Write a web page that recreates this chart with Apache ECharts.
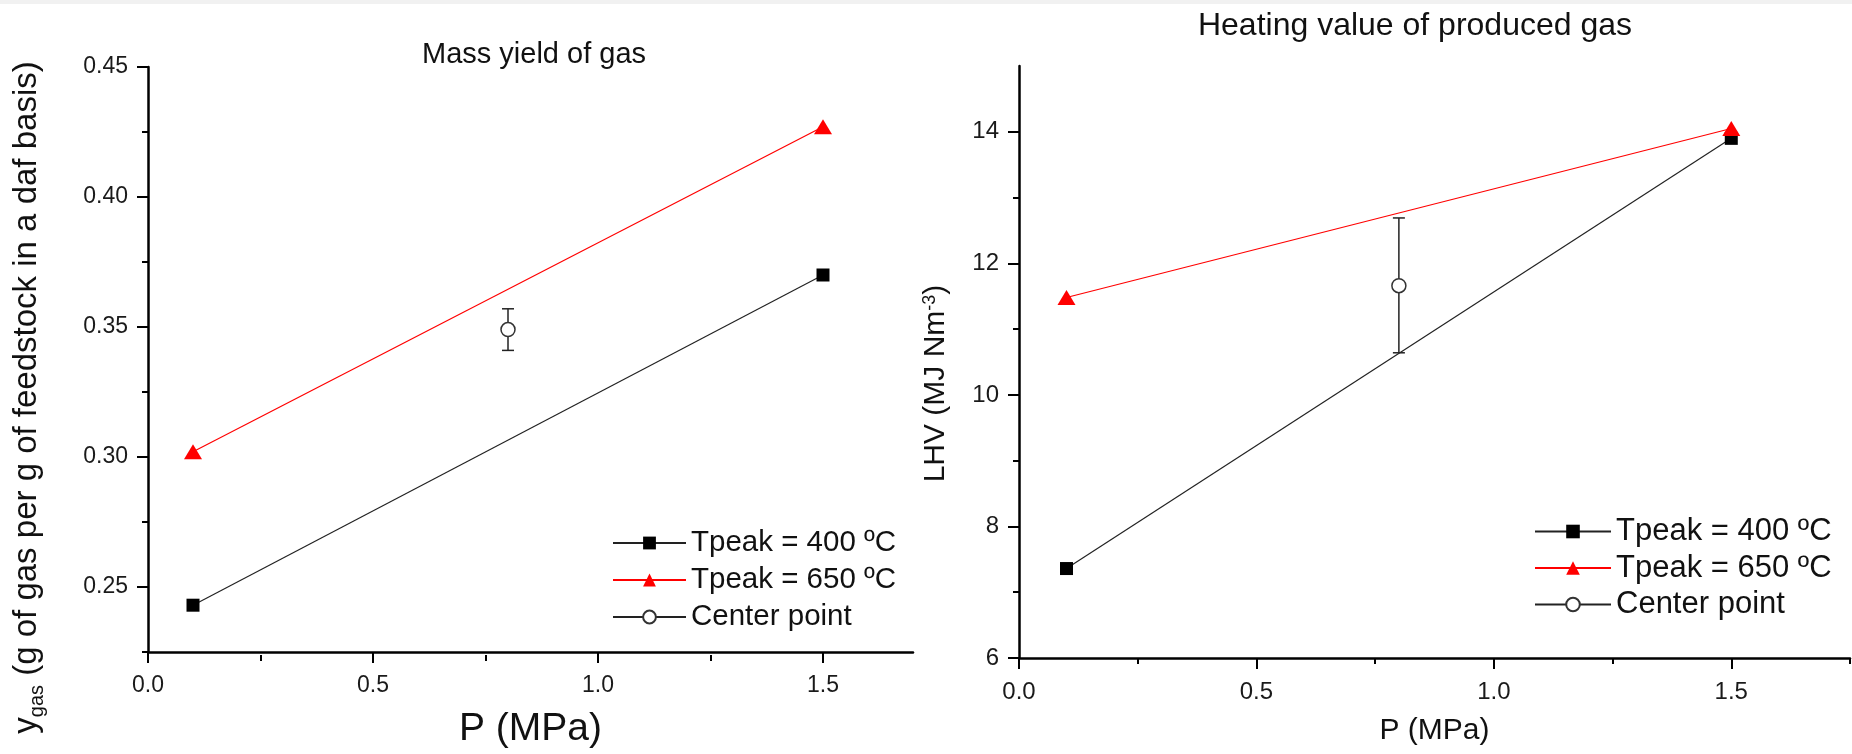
<!DOCTYPE html>
<html>
<head>
<meta charset="utf-8">
<script src="https://cdn.jsdelivr.net/npm/echarts@6/dist/echarts.min.js"></script>
<style>
html, body { margin: 0; padding: 0; background: #fff; }
#main { width: 1852px; height: 754px; }
</style>
</head>
<body>
<div id="main"></div>
<script>
// pressure (MPa)
var pressure = [0.1, 1.5];
var pressureCenter = 0.8;

// mass yield of gas
var yield400 = [0.243, 0.370];
var yield650 = [0.302, 0.427];
var yieldCenter = 0.349;
var yieldErr = [0.341, 0.357];

// heating value LHV (MJ Nm-3)
var lhv400 = [7.36, 13.90];
var lhv650 = [11.48, 14.05];
var lhvCenter = 11.66;
var lhvErr = [10.64, 12.69];

// ticks
var xMajor = [0, 0.5, 1.0, 1.5];
var xMinorLeft = [0.25, 0.75, 1.25];
var xMinorRight = [0.25, 0.75, 1.25, 1.75];
var yMajorLeft = [0.25, 0.30, 0.35, 0.40, 0.45];
var yMinorLeft = [0.225, 0.275, 0.325, 0.375, 0.425];
var yMajorRight = [6, 8, 10, 12, 14];
var yMinorRight = [7, 9, 11, 13];

var legendNames = ['Tpeak = 400 ºC', 'Tpeak = 650 ºC', 'Center point'];

var FONT = '"Liberation Sans", Arial, sans-serif';

// grid boxes
var g0 = {left: 148, top: 67, width: 765, height: 588};
var g1 = {left: 1019, top: 66, width: 831, height: 592};

function pairs(xs, ys) {
    return xs.map(function (x, i) { return [x, ys[i]]; });
}

function majorX(grid, max, name, nameSize, labelSize) {
    return {
        type: 'value', gridIndex: grid, min: 0, max: max,
        name: name, nameLocation: 'middle', nameGap: 58,
        nameTextStyle: {fontSize: nameSize, fontFamily: FONT, color: '#111'},
        axisLine: {onZero: false, lineStyle: {color: '#000', width: 2.5}},
        axisTick: {customValues: xMajor, length: 11, lineStyle: {color: '#000', width: 2}},
        axisLabel: {customValues: xMajor, margin: 22, fontSize: labelSize, fontFamily: FONT, color: '#1a1a1a',
            formatter: function (v) { return v.toFixed(1); }},
        splitLine: {show: false}
    };
}

// minor tick axis: placed at top then shifted down onto the bottom line
function minorX(grid, max, vals, h) {
    return {
        type: 'value', gridIndex: grid, min: 0, max: max, position: 'top', offset: -h,
        axisLine: {show: false, onZero: false},
        axisTick: {customValues: vals, inside: true, length: 6, lineStyle: {color: '#000', width: 2}},
        axisLabel: {show: false},
        splitLine: {show: false}
    };
}

function majorY(grid, min, max, vals, digits, labelSize, name, rich, gap, pad) {
    return {
        type: 'value', gridIndex: grid, min: min, max: max,
        name: name, nameLocation: 'middle', nameGap: gap, nameRotate: 90,
        nameTextStyle: {rich: rich, padding: pad},
        axisLine: {show: true, onZero: false, lineStyle: {color: '#000', width: 2.5}},
        axisTick: {show: true, customValues: vals, length: 11, lineStyle: {color: '#000', width: 2}},
        axisLabel: {customValues: vals, margin: 20, fontSize: labelSize, fontFamily: FONT, color: '#1a1a1a',
            formatter: function (v) { return v.toFixed(digits); }},
        splitLine: {show: false}
    };
}

function minorY(grid, min, max, vals, w) {
    return {
        type: 'value', gridIndex: grid, min: min, max: max, position: 'right', offset: -w,
        axisLine: {show: false, onZero: false},
        axisTick: {show: true, customValues: vals, inside: true, length: 6, lineStyle: {color: '#000', width: 2}},
        axisLabel: {show: false},
        splitLine: {show: false}
    };
}

function errorBar(params, api) {
    var x = api.value(0);
    var lo = api.coord([x, api.value(1)]);
    var hi = api.coord([x, api.value(2)]);
    var half = 6;
    var st = {stroke: '#222', lineWidth: 1.5};
    return {
        type: 'group',
        children: [
            {type: 'line', shape: {x1: lo[0], y1: lo[1], x2: hi[0], y2: hi[1]}, style: st},
            {type: 'line', shape: {x1: lo[0] - half, y1: lo[1], x2: lo[0] + half, y2: lo[1]}, style: st},
            {type: 'line', shape: {x1: hi[0] - half, y1: hi[1], x2: hi[0] + half, y2: hi[1]}, style: st}
        ]
    };
}

function chartSeries(xi, yi, s400, s650, center, err) {
    return [
        {
            name: legendNames[0], type: 'line', xAxisIndex: xi, yAxisIndex: yi,
            data: pairs(pressure, s400), symbol: 'rect', symbolSize: 13,
            itemStyle: {color: '#000'}, lineStyle: {color: '#222', width: 1.2}
        },
        {
            name: legendNames[1], type: 'line', xAxisIndex: xi, yAxisIndex: yi,
            data: pairs(pressure, s650), symbol: 'triangle', symbolSize: [18, 15],
            itemStyle: {color: '#ff0000'}, lineStyle: {color: '#ff0000', width: 1.2}
        },
        {
            type: 'custom', xAxisIndex: xi, yAxisIndex: yi, z: 1,
            data: [[pressureCenter, err[0], err[1]]],
            encode: {x: 0, y: [1, 2]},
            renderItem: errorBar
        },
        {
            name: legendNames[2], type: 'line', xAxisIndex: xi, yAxisIndex: yi, z: 3,
            data: [[pressureCenter, center]], symbol: 'circle', symbolSize: 14,
            itemStyle: {color: '#fff', borderColor: '#333', borderWidth: 1.5},
            lineStyle: {color: '#222', width: 1.2}
        }
    ];
}

var myChart = echarts.init(document.getElementById('main'));

var option = {
    backgroundColor: '#fff',
    animation: false,
    graphic: [{type: 'rect', shape: {x: 0, y: 0, width: 1852, height: 4}, style: {fill: '#f1f1f1'}}],
    title: [
        {text: 'Mass yield of gas', left: 534, top: 40, textAlign: 'center', padding: 0,
            textStyle: {fontSize: 29, fontWeight: 'normal', fontFamily: FONT, color: '#111'}},
        {text: 'Heating value of produced gas', left: 1415, top: 10, textAlign: 'center', padding: 0,
            textStyle: {fontSize: 32, fontWeight: 'normal', fontFamily: FONT, color: '#111'}}
    ],
    legend: [
        {data: legendNames, orient: 'vertical', left: 612, top: 528, padding: 0,
            itemWidth: 73, itemHeight: 16, itemGap: 7, selectedMode: false,
            textStyle: {fontSize: 29.5, lineHeight: 30, fontFamily: FONT, color: '#111'}},
        {data: legendNames, orient: 'vertical', left: 1534, top: 516, padding: 0,
            itemWidth: 76, itemHeight: 17, itemGap: 5.5, selectedMode: false,
            textStyle: {fontSize: 31, lineHeight: 31, fontFamily: FONT, color: '#111'}}
    ],
    grid: [
        {left: g0.left, top: g0.top, width: g0.width, height: g0.height},
        {left: g1.left, top: g1.top, width: g1.width, height: g1.height}
    ],
    xAxis: [
        majorX(0, 1.7, 'P (MPa)', 39, 23),
        minorX(0, 1.7, xMinorLeft, g0.height),
        majorX(1, 1.75, 'P (MPa)', 30, 24),
        minorX(1, 1.75, xMinorRight, g1.height)
    ],
    yAxis: [
        majorY(0, 0.225, 0.45, yMajorLeft, 2, 23,
            '{m|y}{s|gas}{m| (g of gas per g of feedstock in a daf basis)}',
            {
                m: {fontSize: 33, fontFamily: FONT, color: '#111', verticalAlign: 'middle'},
                s: {fontSize: 20, fontFamily: FONT, color: '#111', verticalAlign: 'top', padding: [20, 0, 0, 0]}
            }, 101, [0, 76, 0, 0]),
        minorY(0, 0.225, 0.45, yMinorLeft, g0.width),
        majorY(1, 6, 15, yMajorRight, 0, 24,
            '{m|LHV (MJ Nm}{p|-3}{m|)}',
            {
                m: {fontSize: 30, fontFamily: FONT, color: '#111', verticalAlign: 'middle'},
                p: {fontSize: 18, fontFamily: FONT, color: '#111', verticalAlign: 'top'}
            }, 68, [0, 43, 0, 0]),
        minorY(1, 6, 15, yMinorRight, g1.width)
    ],
    series: []
        .concat(chartSeries(0, 0, yield400, yield650, yieldCenter, yieldErr))
        .concat(chartSeries(2, 2, lhv400, lhv650, lhvCenter, lhvErr))
};

myChart.setOption(option);
</script>
</body>
</html>
